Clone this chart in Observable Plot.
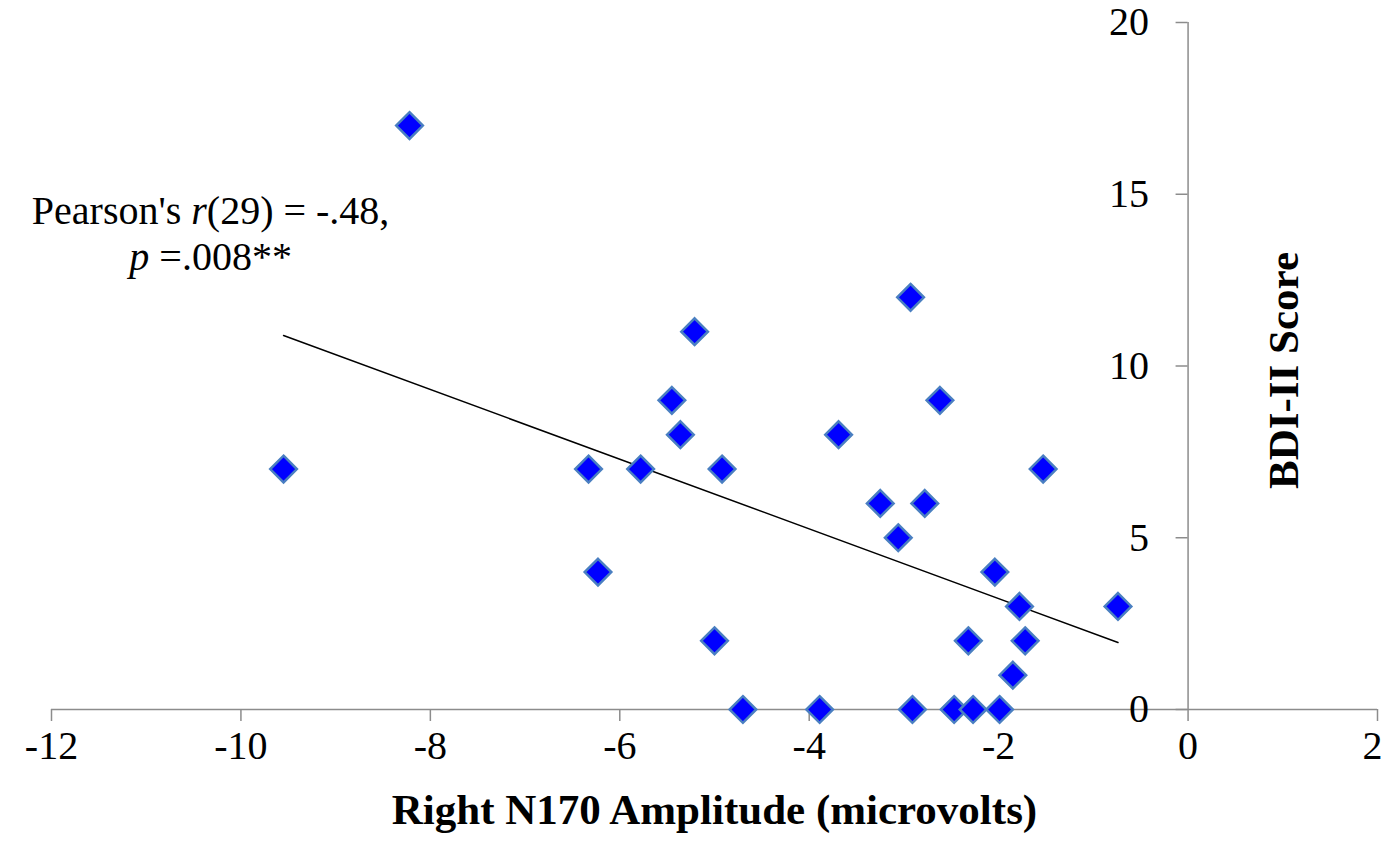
<!DOCTYPE html>
<html>
<head>
<meta charset="utf-8">
<script src="https://cdn.jsdelivr.net/npm/d3@7"></script>
<script src="https://cdn.jsdelivr.net/npm/@observablehq/plot@0.6"></script>
<style>
  html, body { margin: 0; padding: 0; background: #fff; }
  #chart { width: 1384px; height: 842px; overflow: hidden; }
</style>
</head>
<body>
<div id="chart"></div>
<script>
// Right N170 amplitude (microvolts)
const amplitude = [-8.22, -9.55, -6.33, -6.23, -5.78, -5.45, -5.36, -5.21, -4.92, -5.00,
  -4.70, -3.89, -3.69, -3.25, -3.06, -2.93, -2.91, -2.78, -2.62, -2.47,
  -2.32, -2.27, -2.04, -1.99, -1.85, -1.78, -1.72, -1.53, -0.74];
// BDI-II score
const bdi = [17, 7, 7, 4, 7, 9, 8, 11, 7, 2,
  0, 0, 8, 6, 5, 12, 0, 6, 9, 0,
  2, 0, 4, 0, 1, 3, 2, 7, 3];
const xTicks = [-12, -10, -8, -6, -4, -2, 0, 2];
const yTicks = [0, 5, 10, 15, 20];
const xTitle = "Right N170 Amplitude (microvolts)";
const yTitle = "BDI-II Score";
const annotation = "Pearson's r(29) = -.48,\np =.008**";

const data = amplitude.map((a, i) => ({x: a, y: bdi[i]}));
const font = "'Liberation Serif', 'Times New Roman', serif";
const gray = "#8c8c8c";
const lastTick = xTicks[xTicks.length - 1];

const plot = Plot.plot({
  width: 1384,
  height: 842,
  marginLeft: 51,
  marginRight: 7,
  marginTop: 22,
  marginBottom: 133,
  style: {fontFamily: font, background: "#fff", color: "#000"},
  x: {domain: [-12, 2], axis: null},
  y: {domain: [0, 20], axis: null},
  marks: [
    // x axis
    Plot.ruleY([0], {stroke: gray, strokeWidth: 1.5}),
    Plot.ruleX(xTicks, {y1: 0, y2: 0, insetBottom: -12, stroke: gray, strokeWidth: 1.5}),
    Plot.text(xTicks.filter(d => d !== lastTick), {x: d => d, y: 0, text: d => String(d), dy: 37, fontSize: 40, fill: "#000"}),
    Plot.text([lastTick], {x: d => d, y: 0, text: d => String(d), dy: 37, dx: 5, textAnchor: "end", fontSize: 40, fill: "#000"}),
    // y axis at x = 0
    Plot.ruleX([0], {stroke: gray, strokeWidth: 1.5}),
    Plot.ruleY(yTicks, {x1: 0, x2: 0, insetLeft: -12, stroke: gray, strokeWidth: 1.5}),
    Plot.text(yTicks, {x: 0, y: d => d, text: d => String(d), dx: -39, textAnchor: "end", fontSize: 40, fill: "#000"}),
    Plot.linearRegressionY(data, {x: "x", y: "y", ci: 0, stroke: "#000", strokeWidth: 1.5}),
    Plot.dot(data, {x: "x", y: "y", symbol: "diamond2", r: 12, fill: "#0000ff", stroke: "#4a7fc1", strokeWidth: 2.5}),
    Plot.text([annotation], {x: -10.32, y: 13.89, text: d => d, fontSize: 40, lineHeight: 1.15, textAnchor: "middle", fill: "#000"}),
    Plot.text([xTitle], {frameAnchor: "bottom", dy: 114, text: d => d, fontSize: 43, fontWeight: "bold", fill: "#000"}),
    Plot.text([yTitle], {x: 1.02, y: 9.87, text: d => d, rotate: -90, fontSize: 43, fontWeight: "bold", fill: "#000"})
  ]
});

// italicise statistical symbols
plot.querySelectorAll("tspan, text").forEach((t) => {
  if (t.children.length) return;
  const s = t.textContent;
  if (s.startsWith("Pearson")) {
    t.innerHTML = "Pearson's <tspan font-style='italic'>r</tspan>(29) = -.48,";
  } else if (s.startsWith("p =")) {
    t.innerHTML = "<tspan font-style='italic'>p</tspan> =.008**";
  }
});

document.getElementById("chart").appendChild(plot);
</script>
</body>
</html>
